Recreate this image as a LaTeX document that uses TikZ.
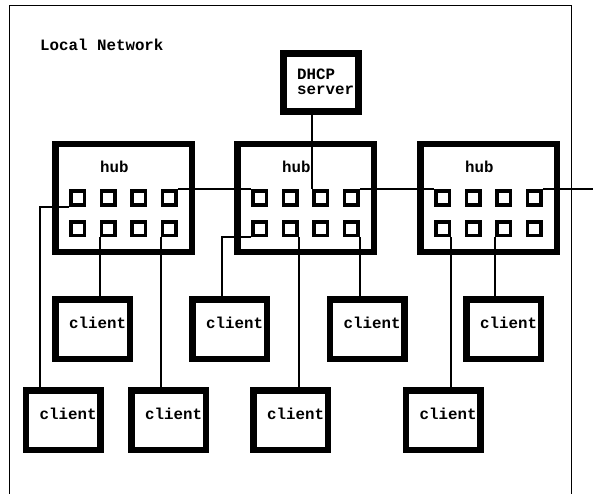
\documentclass[tikz,border=0pt]{standalone}
\usepackage{fontspec}
\setmonofont{Liberation Mono}
\begin{document}
\begin{tikzpicture}[x=1pt,y=-1pt,
  hubbox/.style={draw,line width=6.5pt,minimum width=136.5pt,minimum height=107.5pt,inner sep=0pt},
  srvbox/.style={draw,line width=7pt,minimum width=75pt,minimum height=58pt,inner sep=0pt},
  portbox/.style={draw,line width=3.5pt,minimum size=13.5pt,inner sep=0pt},
  clientbox/.style={draw,line width=6.5pt,minimum width=74.5pt,minimum height=59.5pt,inner sep=0pt},
  wire/.style={line width=2pt},
  frameline/.style={line width=1.3pt},
  lbl/.style={font=\ttfamily\bfseries\fontsize{15.8}{15}\selectfont,inner sep=0pt,anchor=base west},
]
\useasboundingbox (0,0) rectangle (593,494);
\clip (0,0) rectangle (593,494);
% frame
\draw[frameline] (9.5,494) -- (9.5,5.5) -- (571.5,5.5) -- (571.5,494);
\node[lbl] (title) at (40,51) {Local Network};
% DHCP server
\node[srvbox] (dhcp) at (321,82.5) {};
\node[lbl] (dhcpA) at ([shift={(17,30)}]dhcp.north west) {DHCP};
\node[lbl] (dhcpB) at ([shift={(17,45)}]dhcp.north west) {server};
% hubs
\foreach \h/\x in {1/123.5,2/305.5,3/488.5} {
  \node[hubbox] (hub\h) at (\x,198) {};
  \node[lbl] (hubt\h) at ([shift={(48,32)}]hub\h.north west) {hub};
  \foreach \i/\dx in {1/-45.75,2/-15.25,3/15.25,4/45.75} {
    \node[portbox] (h\h-p\i) at ({\x+\dx},198) {};
    \node[portbox] (h\h-q\i) at ({\x+\dx},228.5) {};
  }
}
% clients
\foreach \n/\x/\y in {c1/92.5/329, c2/229.5/329, c3/367/329, c4/503.5/329, cA/63/420, cB/168.5/420, cC/290.5/420, cD/443/420} {
  \node[clientbox] (\n) at (\x,\y) {};
  \node[lbl] (\n-t) at ([shift={(17,32)}]\n.north west) {client};
}
% bus
\coordinate (busend) at (593,189.5);
\draw[wire] (h1-p4.north east) -- (h2-p1.north west);
\draw[wire] (h2-p4.north east) -- (h3-p1.north west);
\draw[wire] (h3-p4.north east) -- (busend);
\draw[wire] (dhcp.south -| h2-p3.north west) -- (h2-p3.north west);
% client links
\draw[wire] (h1-p1.south west) -| ([xshift=-23pt]cA.north);
\draw[wire] (h1-q2.south west) -- (h1-q2.south west |- c1.north);
\draw[wire] (h1-q4.south west) -- (h1-q4.south west |- cB.north);
\draw[wire] (h2-q1.south west) -| ([xshift=-8pt]c2.north);
\draw[wire] (h2-q2.south east) -- (h2-q2.south east |- cC.north);
\draw[wire] (h2-q4.south east) -- (h2-q4.south east |- c3.north);
\draw[wire] (h3-q1.south east) -- (h3-q1.south east |- cD.north);
\draw[wire] (h3-q3.south west) -- (h3-q3.south west |- c4.north);
\end{tikzpicture}
\end{document}
